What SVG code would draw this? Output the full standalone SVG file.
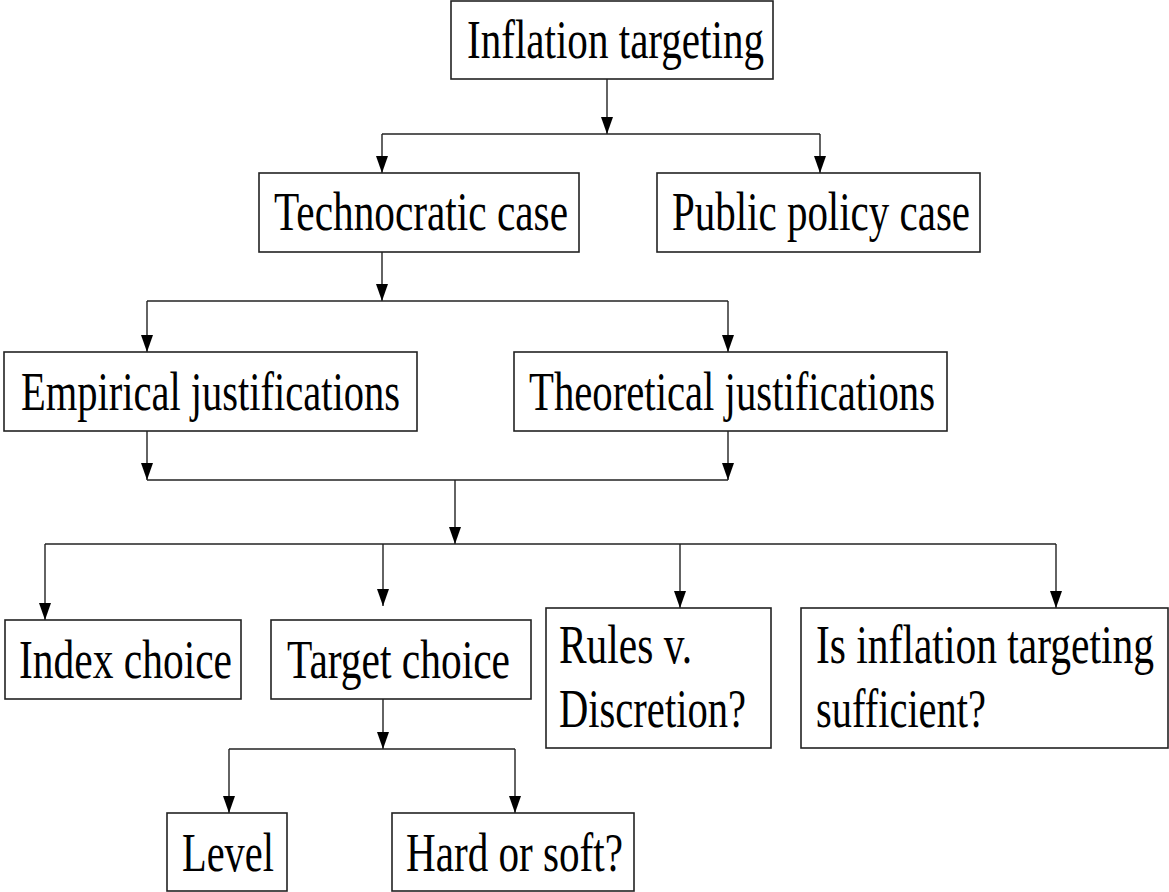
<svg xmlns="http://www.w3.org/2000/svg" width="1169" height="892" viewBox="0 0 1169 892">
<defs>
<style>
.box{fill:#fff;stroke:#222;stroke-width:1.6}
.lbl{font-family:"Liberation Serif","Times New Roman",serif;font-size:54px;fill:#000}
.ln{fill:none;stroke:#222;stroke-width:1.4}
</style>
<marker id="ah" markerUnits="userSpaceOnUse" viewBox="0 0 17 12" refX="17" refY="6" markerWidth="17" markerHeight="12" orient="auto">
<path d="M0,0 L17,6 L0,12 z" fill="#000"/>
</marker>
</defs>
<rect width="1169" height="892" fill="#fff"/>
<g id="connectors">
<path class="ln" d="M607,79 V134" marker-end="url(#ah)"/>
<path class="ln" d="M382,134 H820"/>
<path class="ln" d="M382,134 V173" marker-end="url(#ah)"/>
<path class="ln" d="M820,134 V173" marker-end="url(#ah)"/>
<path class="ln" d="M382,252 V301" marker-end="url(#ah)"/>
<path class="ln" d="M147,301 H728"/>
<path class="ln" d="M147,301 V352" marker-end="url(#ah)"/>
<path class="ln" d="M728,301 V352" marker-end="url(#ah)"/>
<path class="ln" d="M147,431 V480" marker-end="url(#ah)"/>
<path class="ln" d="M728,431 V480" marker-end="url(#ah)"/>
<path class="ln" d="M147,480 H728"/>
<path class="ln" d="M455,480 V544" marker-end="url(#ah)"/>
<path class="ln" d="M45,544 H1056"/>
<path class="ln" d="M45,544 V620" marker-end="url(#ah)"/>
<path class="ln" d="M383,544 V606" marker-end="url(#ah)"/>
<path class="ln" d="M680,544 V608" marker-end="url(#ah)"/>
<path class="ln" d="M1056,544 V608" marker-end="url(#ah)"/>
<path class="ln" d="M383,699 V749" marker-end="url(#ah)"/>
<path class="ln" d="M229,749 H515"/>
<path class="ln" d="M229,749 V813" marker-end="url(#ah)"/>
<path class="ln" d="M515,749 V813" marker-end="url(#ah)"/>
</g>
<g id="inflation-targeting">
<rect class="box" x="451" y="1" width="322" height="78"/>
<text class="lbl" x="467" y="58" textLength="297" lengthAdjust="spacingAndGlyphs">Inflation targeting</text>
</g>
<g id="technocratic-case">
<rect class="box" x="259" y="173" width="320" height="79"/>
<text class="lbl" x="274" y="230" textLength="294" lengthAdjust="spacingAndGlyphs">Technocratic case</text>
</g>
<g id="public-policy-case">
<rect class="box" x="657" y="173" width="323" height="79"/>
<text class="lbl" x="672" y="230" textLength="298" lengthAdjust="spacingAndGlyphs">Public policy case</text>
</g>
<g id="empirical-justifications">
<rect class="box" x="4" y="352" width="413" height="79"/>
<text class="lbl" x="21" y="410" textLength="379" lengthAdjust="spacingAndGlyphs">Empirical justifications</text>
</g>
<g id="theoretical-justifications">
<rect class="box" x="514" y="352" width="433" height="79"/>
<text class="lbl" x="529" y="410" textLength="406" lengthAdjust="spacingAndGlyphs">Theoretical justifications</text>
</g>
<g id="index-choice">
<rect class="box" x="5" y="620" width="236" height="79"/>
<text class="lbl" x="19" y="678" textLength="213" lengthAdjust="spacingAndGlyphs">Index choice</text>
</g>
<g id="target-choice">
<rect class="box" x="271" y="620" width="260" height="79"/>
<text class="lbl" x="287" y="678" textLength="223" lengthAdjust="spacingAndGlyphs">Target choice</text>
</g>
<g id="rules-discretion">
<rect class="box" x="546" y="608" width="225" height="140"/>
<text class="lbl" x="559" y="663" textLength="133" lengthAdjust="spacingAndGlyphs">Rules v.</text>
<text class="lbl" x="559" y="727" textLength="187" lengthAdjust="spacingAndGlyphs">Discretion?</text>
</g>
<g id="is-inflation-targeting-sufficient">
<rect class="box" x="801" y="608" width="367" height="140"/>
<text class="lbl" x="816" y="663" textLength="338" lengthAdjust="spacingAndGlyphs">Is inflation targeting</text>
<text class="lbl" x="816" y="727" textLength="170" lengthAdjust="spacingAndGlyphs">sufficient?</text>
</g>
<g id="level">
<rect class="box" x="167" y="813" width="120" height="78"/>
<text class="lbl" x="182" y="871" textLength="92" lengthAdjust="spacingAndGlyphs">Level</text>
</g>
<g id="hard-or-soft">
<rect class="box" x="392" y="813" width="242" height="78"/>
<text class="lbl" x="406" y="871" textLength="217" lengthAdjust="spacingAndGlyphs">Hard or soft?</text>
</g>
</svg>
